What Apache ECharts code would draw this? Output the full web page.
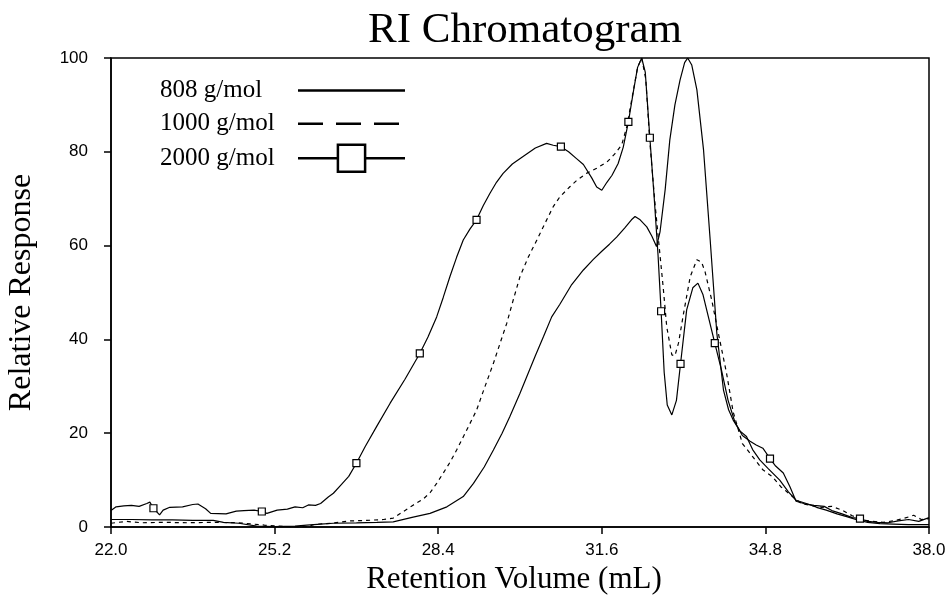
<!DOCTYPE html>
<html>
<head>
<meta charset="utf-8">
<title>RI Chromatogram</title>
<script src="https://cdn.jsdelivr.net/npm/echarts@6/dist/echarts.min.js"></script>
<style>
  html, body { margin: 0; padding: 0; background: #fff; }
  #chart { width: 946px; height: 596px; }
</style>
</head>
<body>
<div id="chart"></div>
<script>
// retention volume (mL) / relative response
const vol808 = [22.00,22.40,22.80,23.20,23.60,24.00,24.20,24.50,24.85,25.20,25.60,25.83,26.10,26.35,26.80,27.20,27.52,27.91,28.24,28.57,28.89,29.09,29.30,29.48,29.65,29.80,30.00,30.13,30.30,30.46,30.62,30.78,31.00,31.24,31.43,31.60,31.75,31.89,32.05,32.18,32.25,32.35,32.48,32.58,32.67,32.74,32.84,32.93,33.03,33.13,33.22,33.28,33.36,33.46,33.59,33.72,33.85,33.98,34.08,34.17,34.30,34.43,34.55,34.69,34.85,35.08,35.25,35.40,35.60,35.80,35.99,36.20,36.39,36.60,36.80,37.04,37.30,37.60,38.00]
const resp808 = [1.6,1.6,1.5,1.5,1.4,1.4,1.0,0.8,0.2,0.1,0.2,0.4,0.6,0.8,0.9,1.0,1.1,2.1,2.9,4.3,6.5,9.3,12.8,16.4,20.0,23.5,28.5,32.0,36.5,40.6,44.8,47.5,51.5,54.8,57.0,58.8,60.3,61.8,63.8,65.5,66.2,65.5,64.0,62.0,59.8,63.0,72.0,82.5,90.0,95.3,99.0,100,98.5,93.2,80.4,61.2,41.3,29.2,25.0,22.8,20.5,19.3,16.5,14.3,12.5,10.0,7.5,5.7,5.0,4.2,3.6,2.8,2.2,1.5,1.0,0.7,0.6,0.5,0.5]

const vol1000 = [22.00,22.30,22.60,23.00,23.50,24.00,24.50,25.00,25.40,25.80,26.00,26.30,26.67,27.00,27.33,27.52,27.72,27.90,28.11,28.24,28.37,28.50,28.63,28.76,28.95,29.15,29.30,29.48,29.62,29.74,29.87,30.00,30.16,30.33,30.50,30.65,30.78,30.98,31.10,31.30,31.50,31.70,31.85,31.99,32.09,32.20,32.30,32.38,32.46,32.54,32.64,32.72,32.80,32.87,32.97,33.03,33.10,33.20,33.33,33.46,33.55,33.62,33.75,33.88,34.04,34.17,34.35,34.55,34.75,34.94,35.10,35.33,35.50,35.70,35.90,36.10,36.30,36.50,36.70,36.90,37.10,37.30,37.50,37.70,37.85,38.00]
const resp1000 = [0.8,1.2,0.9,1.0,0.9,1.0,0.9,0.4,0.1,0.0,0.6,0.8,1.3,1.4,1.6,1.9,3.3,4.6,6.0,7.3,9.3,11.5,13.8,16.4,20.5,24.9,29.5,34.9,39.5,43.4,48.5,53.4,57.5,61.2,65.0,68.3,70.4,72.6,73.8,75.4,76.5,77.8,79.5,81.5,85.4,92.0,98.0,100,95.5,82.0,69.0,60.0,51.2,42.7,36.7,36.5,39.2,45.6,53.4,57.0,56.5,54.4,48.4,41.3,32.8,24.5,17.8,15.0,12.2,10.7,8.6,6.5,5.0,4.6,4.2,4.4,3.6,2.4,1.5,1.2,1.0,1.3,1.8,2.5,1.6,1.8]

const vol2000 = [22.00,22.10,22.25,22.40,22.55,22.70,22.76,22.83,22.95,23.02,23.15,23.40,23.60,23.70,23.85,23.95,24.25,24.45,24.60,24.80,24.95,25.05,25.25,25.45,25.60,25.75,25.86,26.00,26.10,26.25,26.35,26.50,26.65,26.80,26.97,27.20,27.46,27.75,28.04,28.20,28.37,28.50,28.63,28.76,28.89,29.02,29.15,29.28,29.41,29.54,29.67,29.85,30.06,30.30,30.52,30.65,30.80,30.95,31.10,31.24,31.40,31.50,31.60,31.70,31.80,31.92,32.02,32.12,32.22,32.30,32.38,32.45,32.54,32.62,32.70,32.76,32.82,32.88,32.97,33.06,33.14,33.26,33.38,33.48,33.58,33.68,33.81,33.94,34.07,34.20,34.35,34.50,34.62,34.75,34.89,35.00,35.15,35.28,35.40,35.55,35.75,35.95,36.10,36.30,36.50,36.65,36.80,37.00,37.20,37.40,37.60,37.80,38.00]
const resp2000 = [3.5,4.3,4.5,4.6,4.4,5.0,5.3,4.0,2.6,3.6,4.2,4.3,4.8,4.9,3.9,2.9,2.8,3.4,3.5,3.6,3.3,2.9,3.6,3.8,4.3,4.1,4.7,4.6,5.0,6.4,7.2,9.0,10.8,13.6,17.1,21.5,26.4,31.5,37.0,40.5,44.8,49.0,53.4,57.5,61.2,63.5,65.5,68.5,71.1,73.5,75.4,77.4,79.0,80.8,81.8,81.4,81.1,80.0,78.6,77.3,74.5,72.5,71.8,73.5,75.0,77.5,81.0,86.4,93.0,98.0,100,97.0,83.0,71.0,58.0,46.0,33.0,26.0,23.9,27.0,34.8,46.3,51.0,52.0,49.5,45.0,39.2,33.5,27.0,22.5,19.5,18.3,17.5,16.8,14.6,13.0,11.5,8.6,5.5,5.0,4.6,4.4,3.5,2.8,2.0,1.8,1.2,1.0,0.9,1.3,1.6,1.2,2.0]
// volumes where the 2000 g/mol trace carries a square marker
const marks2000 = [22.83,24.95,26.80,28.04,29.15,30.80,32.12,32.54,32.76,33.14,33.81,34.89,36.65]

const xTicks = [22.0, 25.2, 28.4, 31.6, 34.8, 38.0]

const serif = '"Liberation Serif", "Times New Roman", serif'
const sans  = '"Liberation Sans", Arial, sans-serif'

const chart = echarts.init(document.getElementById('chart'))

const pairs = (xs, ys) => xs.map((x, i) => [x, ys[i]])
const data2000 = vol2000.map((x, i) => ({
  value: [x, resp2000[i]],
  symbol: marks2000.includes(x) ? 'rect' : 'none',
}))

const hidden = { color: 'transparent', borderColor: 'transparent', borderWidth: 0 }
const black = { color: '#000', width: 1.5 }

chart.setOption({
  backgroundColor: '#fff',
  animation: false,
  title: {
    text: 'RI Chromatogram', left: 520, top: 4, textAlign: 'center',
    textStyle: { fontFamily: serif, fontSize: 43, fontWeight: 'normal', color: '#000' },
  },
  grid: {
    left: 111, right: 17, top: 58, bottom: 69, outerBoundsMode: 'none',
    show: true, borderColor: '#000', borderWidth: 1.5, backgroundColor: 'transparent',
  },
  legend: {
    orient: 'vertical', left: 155, top: 72, align: 'right',
    itemWidth: 107, itemHeight: 34, itemGap: 6,
    selectedMode: false,
    // text kept left-aligned in a fixed-width box, icon to its right
    formatter: name => `{t|${name}}`,
    textStyle: {
      fontFamily: serif, fontSize: 25, color: '#000', padding: [0, 13, 0, 0],
      rich: { t: { width: 120, align: 'left', fontFamily: serif, fontSize: 25, color: '#000' } },
    },
    data: [
      { name: '808 g/mol',  lineStyle: { width: 2.5, type: 'solid' }, itemStyle: hidden },
      { name: '1000 g/mol', lineStyle: { width: 2.5, type: [25, 13] }, itemStyle: hidden },
      { name: '2000 g/mol', lineStyle: { width: 2.5, type: 'solid' },
        itemStyle: { color: '#fff', borderColor: '#000', borderWidth: 2.5 } },
    ],
  },
  xAxis: {
    type: 'value', min: 22, max: 38,
    name: 'Retention Volume (mL)', nameLocation: 'middle', nameGap: 35,
    nameTextStyle: { fontFamily: serif, fontSize: 31, color: '#000', padding: [0, 12, 0, 0] },
    axisLine: { show: true, onZero: false, lineStyle: black },
    axisTick: { show: true, length: 7, customValues: xTicks, lineStyle: black },
    axisLabel: {
      customValues: xTicks, margin: 15, formatter: v => v.toFixed(1),
      fontFamily: sans, fontSize: 17, color: '#000',
    },
    splitLine: { show: false },
  },
  yAxis: {
    type: 'value', min: 0, max: 100, interval: 20,
    name: 'Relative Response', nameLocation: 'middle', nameGap: 73, nameRotate: 90,
    nameTextStyle: { fontFamily: serif, fontSize: 32, color: '#000' },
    axisLine: { show: true, lineStyle: black },
    axisTick: { show: true, length: 7, lineStyle: black },
    axisLabel: { margin: 23, fontFamily: sans, fontSize: 17, color: '#000' },
    splitLine: { show: false },
  },
  series: [
    {
      type: 'line', name: '808 g/mol', data: pairs(vol808, resp808),
      symbol: 'none', lineStyle: { color: '#000', width: 1.2 },
      silent: true, emphasis: { disabled: true },
    },
    {
      type: 'line', name: '1000 g/mol', data: pairs(vol1000, resp1000),
      symbol: 'none', lineStyle: { color: '#000', width: 1.2, type: [4, 4] },
      silent: true, emphasis: { disabled: true },
    },
    {
      type: 'line', name: '2000 g/mol', data: data2000,
      symbol: 'rect', symbolSize: 7, showAllSymbol: true,
      itemStyle: { color: '#fff', borderColor: '#000', borderWidth: 1.2 },
      lineStyle: { color: '#000', width: 1.2 },
      silent: true, emphasis: { disabled: true },
    },
  ],
})
</script>
</body>
</html>
